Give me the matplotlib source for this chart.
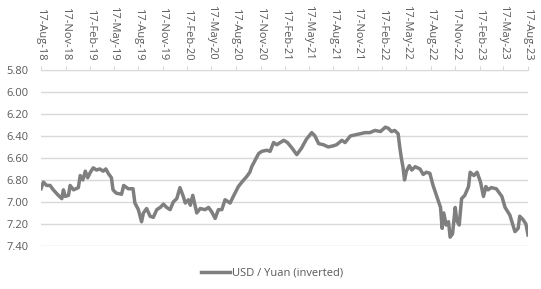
import pandas as pd
import numpy as np
import matplotlib
matplotlib.use('Agg')
import matplotlib.pyplot as plt
import matplotlib.dates as mdates

plt.rcParams['font.family'] = ['Open Sans', 'DejaVu Sans']

# USD / Yuan
dates = ['2018-08-17', '2018-08-26', '2018-09-07', '2018-09-20', '2018-10-02', '2018-10-21',
         '2018-11-03', '2018-11-09', '2018-11-16', '2018-11-28', '2018-12-04', '2018-12-17',
         '2019-01-04', '2019-01-11', '2019-01-21', '2019-01-30', '2019-02-08', '2019-02-18',
         '2019-03-01', '2019-03-13', '2019-03-25', '2019-04-07', '2019-04-17', '2019-04-26',
         '2019-05-08', '2019-05-14', '2019-05-26', '2019-06-15', '2019-06-23', '2019-07-10',
         '2019-07-28', '2019-08-04', '2019-08-17', '2019-08-29', '2019-09-05', '2019-09-17',
         '2019-09-30', '2019-10-12', '2019-10-25', '2019-11-07', '2019-11-19', '2019-12-01',
         '2019-12-14', '2019-12-26', '2020-01-08', '2020-01-20', '2020-01-31', '2020-02-09',
         '2020-02-21', '2020-02-28', '2020-03-08', '2020-03-23', '2020-04-05', '2020-04-23',
         '2020-05-06', '2020-05-18', '2020-05-31', '2020-06-12', '2020-06-25', '2020-07-07',
         '2020-07-26', '2020-08-07', '2020-08-26', '2020-09-08', '2020-09-26', '2020-10-08',
         '2020-10-15', '2020-10-28', '2020-11-10', '2020-11-22', '2020-12-11', '2020-12-23',
         '2021-01-05', '2021-01-17', '2021-02-12', '2021-02-26', '2021-03-15', '2021-04-02',
         '2021-04-20', '2021-05-08', '2021-05-28', '2021-06-09', '2021-06-23', '2021-07-11',
         '2021-07-29', '2021-08-17', '2021-08-29', '2021-09-18', '2021-09-30', '2021-10-20',
         '2021-11-07', '2021-11-26', '2021-12-14', '2022-01-01', '2022-01-20', '2022-02-10',
         '2022-02-28', '2022-03-11', '2022-03-23', '2022-04-04', '2022-04-17', '2022-04-23',
         '2022-04-29', '2022-05-05', '2022-05-11', '2022-05-18', '2022-05-29', '2022-06-07',
         '2022-06-20', '2022-07-08', '2022-07-20', '2022-08-01', '2022-08-14', '2022-08-26',
         '2022-09-09', '2022-09-23', '2022-09-29', '2022-10-05', '2022-10-14', '2022-10-23',
         '2022-10-29', '2022-11-07', '2022-11-17', '2022-11-23', '2022-12-02', '2022-12-11',
         '2022-12-23', '2023-01-06', '2023-01-12', '2023-01-26', '2023-02-07', '2023-02-20',
         '2023-03-03', '2023-03-12', '2023-03-20', '2023-04-01', '2023-04-20', '2023-05-11',
         '2023-05-23', '2023-06-10', '2023-06-29', '2023-07-11', '2023-07-17', '2023-07-29',
         '2023-08-09', '2023-08-17']
rates = [6.88, 6.82, 6.85, 6.85, 6.89, 6.94,
         6.97, 6.89, 6.95, 6.94, 6.85, 6.89,
         6.87, 6.76, 6.80, 6.72, 6.78, 6.73,
         6.69, 6.71, 6.70, 6.72, 6.70, 6.74,
         6.78, 6.89, 6.92, 6.93, 6.85, 6.88,
         6.88, 7.01, 7.07, 7.18, 7.10, 7.06,
         7.13, 7.14, 7.07, 7.05, 7.02, 7.05,
         7.07, 7.00, 6.97, 6.87, 6.94, 7.01,
         6.98, 7.03, 6.94, 7.10, 7.06, 7.07,
         7.05, 7.09, 7.15, 7.07, 7.07, 6.98,
         7.01, 6.95, 6.86, 6.82, 6.77, 6.73,
         6.68, 6.62, 6.56, 6.54, 6.53, 6.54,
         6.46, 6.48, 6.44, 6.46, 6.51, 6.57,
         6.51, 6.43, 6.37, 6.40, 6.47, 6.48,
         6.50, 6.49, 6.48, 6.44, 6.46, 6.40,
         6.39, 6.38, 6.37, 6.37, 6.35, 6.36,
         6.32, 6.33, 6.36, 6.35, 6.38, 6.50,
         6.60, 6.68, 6.80, 6.72, 6.67, 6.71,
         6.68, 6.70, 6.75, 6.73, 6.74, 6.85,
         6.95, 7.05, 7.24, 7.10, 7.21, 7.18,
         7.32, 7.29, 7.05, 7.17, 7.21, 6.97,
         6.94, 6.86, 6.73, 6.76, 6.73, 6.82,
         6.95, 6.86, 6.89, 6.87, 6.88, 6.95,
         7.05, 7.12, 7.27, 7.24, 7.13, 7.16,
         7.20, 7.30]

tick_dates = pd.date_range('2018-08-01', '2023-08-01', freq='3MS') + pd.Timedelta(days=16)
y_ticks = [5.80, 6.00, 6.20, 6.40, 6.60, 6.80, 7.00, 7.20, 7.40]

x = pd.to_datetime(dates)
text_col = '#595959'
grid_col = '#d9d9d9'

fig = plt.figure(figsize=(5.41, 2.89), dpi=100)
ax = fig.add_axes([0.0758, 0.149, 0.9002, 0.609])

ax.plot(x, rates, color='#7f7f7f', lw=2.5, label='USD / Yuan (inverted)')

ax.set_xlim(pd.Timestamp('2018-08-17'), pd.Timestamp('2023-08-17'))
ax.set_ylim(7.40, 5.80)
ax.set_yticks(y_ticks)
ax.set_yticklabels(['%.2f' % v for v in y_ticks])
ax.set_xticks(tick_dates)
ax.xaxis.set_major_formatter(mdates.DateFormatter('%d-%b-%y'))
ax.xaxis.tick_top()
for lab in ax.get_xticklabels():
    lab.set_rotation(270)
    lab.set_va('bottom')
    lab.set_ha('center')

ax.grid(axis='y', color=grid_col, lw=1)
ax.set_axisbelow(True)
for s in ['left', 'right', 'bottom']:
    ax.spines[s].set_visible(False)
ax.spines['top'].set_color(grid_col)
ax.tick_params(axis='x', colors=text_col, labelsize=8, length=3, width=0.8,
               color=grid_col, pad=4, direction='out')
ax.tick_params(axis='y', colors=text_col, labelsize=8, length=0, pad=9)

fig.legend(loc='center', bbox_to_anchor=(0.503, 0.055), frameon=False,
           fontsize=8, handlelength=2.6, handletextpad=0.2, labelcolor=text_col)

fig.savefig('out.png', dpi=100)
